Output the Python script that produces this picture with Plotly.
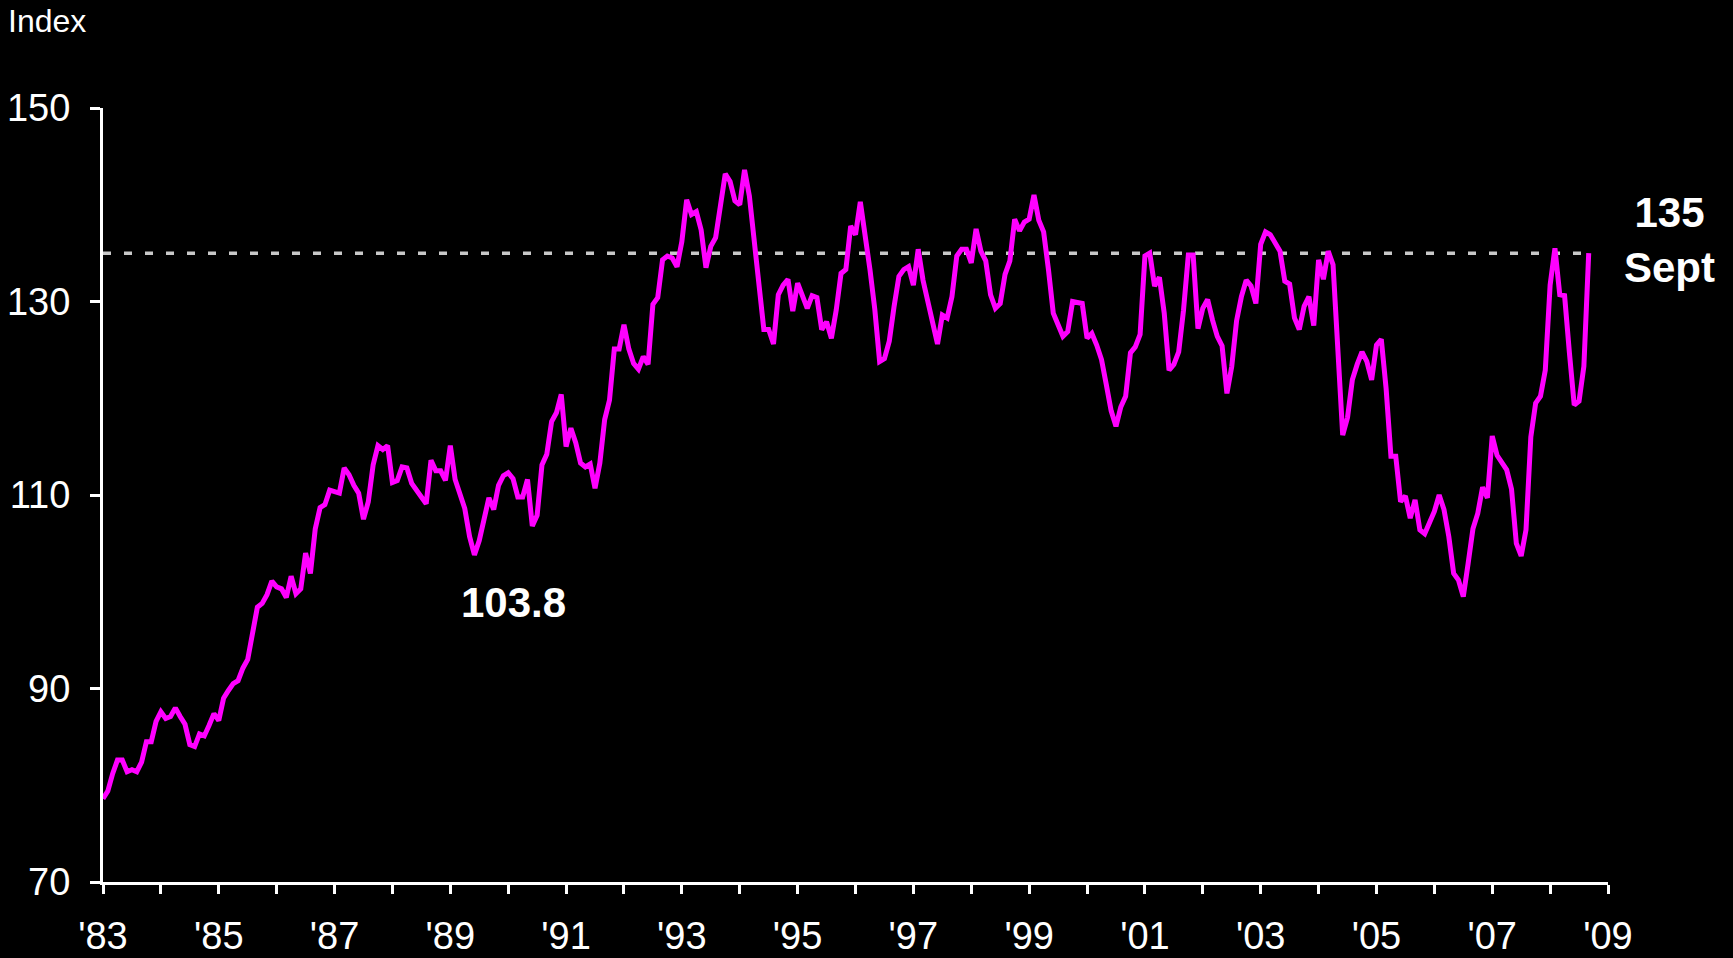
import plotly.graph_objects as go

start_year = 1983
values_1983 = [78.6, 79.4, 81.2, 82.6, 82.6, 81.4, 81.6, 81.4, 82.4, 84.5, 84.5, 86.6]
values_1984 = [87.6, 86.9, 87.1, 88.0, 87.1, 86.3, 84.2, 84.0, 85.3, 85.1, 86.2, 87.4]
values_1985 = [86.7, 89.0, 89.8, 90.5, 90.8, 92.1, 93.0, 95.4, 98.4, 98.8, 99.7, 101.1]
values_1986 = [100.5, 100.3, 99.4, 101.6, 99.8, 100.3, 104.0, 101.9, 106.5, 108.7, 109.0, 110.5]
values_1987 = [110.3, 110.2, 112.8, 112.1, 111.0, 110.2, 107.5, 109.3, 113.1, 115.1, 114.7, 115.1]
values_1988 = [111.3, 111.5, 112.9, 112.8, 111.2, 110.4, 109.8, 109.1, 113.6, 112.5, 112.5, 111.5]
values_1989 = [115.1, 111.6, 110.2, 108.6, 105.7, 103.8, 105.3, 107.6, 109.7, 108.5, 111.0, 112.0]
values_1990 = [112.3, 111.7, 109.8, 109.8, 111.6, 106.8, 107.9, 113.1, 114.2, 117.6, 118.5, 120.4]
values_1991 = [115.0, 116.9, 115.4, 113.3, 112.9, 113.2, 110.7, 113.3, 117.8, 119.8, 125.1, 125.1]
values_1992 = [127.6, 125.1, 123.6, 123.0, 124.3, 123.5, 129.7, 130.4, 134.3, 134.7, 134.5, 133.6]
values_1993 = [136.2, 140.5, 139.0, 139.3, 137.4, 133.5, 135.7, 136.6, 140.2, 143.2, 142.4, 140.4]
values_1994 = [140.0, 143.6, 140.9, 136.0, 131.0, 127.1, 127.1, 125.6, 130.7, 131.7, 132.3, 129.0]
values_1995 = [131.9, 130.7, 129.3, 130.6, 130.4, 127.1, 127.9, 126.2, 129.1, 132.9, 133.3, 137.8]
values_1996 = [136.9, 140.3, 136.9, 133.3, 129.2, 123.8, 124.1, 125.9, 129.5, 132.6, 133.3, 133.6]
values_1997 = [131.7, 135.4, 132.2, 129.8, 127.9, 125.6, 128.6, 128.3, 130.5, 134.7, 135.4, 135.4]
values_1998 = [134.0, 137.5, 135.2, 134.2, 130.7, 129.3, 129.8, 132.8, 134.2, 138.5, 137.3, 138.2]
values_1999 = [138.5, 141.0, 138.4, 137.2, 133.3, 128.8, 127.6, 126.4, 126.9, 130.0, 129.9, 129.8]
values_2000 = [126.2, 126.7, 125.5, 124.0, 121.4, 118.7, 117.1, 119.1, 120.2, 124.7, 125.3, 126.6]
values_2001 = [134.7, 135.0, 131.6, 132.5, 128.8, 122.9, 123.5, 124.8, 129.1, 134.8, 134.8, 127.2]
values_2002 = [129.3, 130.2, 128.1, 126.4, 125.4, 120.5, 123.3, 128.0, 130.5, 132.2, 131.6, 129.8]
values_2003 = [135.9, 137.2, 136.9, 136.1, 135.2, 132.1, 131.8, 128.3, 127.1, 129.5, 130.5, 127.5]
values_2004 = [134.3, 132.3, 135.2, 133.8, 125.0, 116.2, 118.0, 121.9, 123.5, 124.8, 123.8, 121.9]
values_2005 = [125.5, 126.1, 121.0, 114.0, 114.0, 109.3, 109.9, 107.6, 109.5, 106.4, 106.0, 107.2]
values_2006 = [108.3, 110.0, 108.5, 105.7, 101.9, 101.2, 99.5, 102.9, 106.5, 108.1, 110.8, 109.7]
values_2007 = [116.1, 114.1, 113.4, 112.6, 110.6, 105.0, 103.7, 106.4, 116.0, 119.5, 120.2, 122.9]
values_2008 = [131.7, 135.5, 130.7, 130.6, 124.7, 119.3, 119.7, 123.3, 135.0]

series = (values_1983 + values_1984 + values_1985 + values_1986 + values_1987 + values_1988
          + values_1989 + values_1990 + values_1991 + values_1992 + values_1993 + values_1994
          + values_1995 + values_1996 + values_1997 + values_1998 + values_1999 + values_2000
          + values_2001 + values_2002 + values_2003 + values_2004 + values_2005 + values_2006
          + values_2007 + values_2008)
x_time = [start_year + i / 12 for i in range(len(series))]

x_tick_vals = list(range(1983, 2010, 2))
x_tick_text = ["'83", "'85", "'87", "'89", "'91", "'93", "'95", "'97", "'99", "'01", "'03", "'05", "'07", "'09"]
y_tick_vals = [70, 90, 110, 130, 150]

low_label = "103.8"
low_x, low_y = 1990.1, 98.9
last_label = "135<br>Sept"
ref_value = series[-1]

FONT = "Liberation Sans, Arial, sans-serif"

fig = go.Figure()
fig.add_trace(go.Scatter(x=x_time, y=series, mode="lines",
                         line=dict(color="#ff00ff", width=5), hoverinfo="skip"))

fig.add_shape(type="line", xref="x", yref="y", x0=1983, x1=x_time[-1], y0=ref_value, y1=ref_value,
              line=dict(color="#c8c8c8", width=3.5, dash="8px,13px"), layer="below")

L, R, T, B = 103, 1608, 108, 882
W, H = R - L, B - T

def px(xp):
    return (xp - L) / W

def py(yp):
    return (B - yp) / H

fig.add_annotation(x=px(6), y=py(1), xref="paper", yref="paper", text="Index",
                   showarrow=False, xanchor="left", yanchor="top",
                   font=dict(family=FONT, size=32, color="white"))
fig.add_annotation(x=low_x, y=low_y, xref="x", yref="y", text="<b>" + low_label + "</b>",
                   showarrow=False, xanchor="center", yanchor="middle",
                   font=dict(family=FONT, size=42, color="white"))
fig.add_annotation(x=px(1669), y=py(240), xref="paper", yref="paper", text="<b>" + last_label + "</b>",
                   showarrow=False, xanchor="center", yanchor="middle",
                   font=dict(family=FONT, size=42, color="white"))

fig.update_layout(
    width=1733, height=958,
    margin=dict(l=L, r=1733 - R, t=T, b=958 - B, pad=0),
    paper_bgcolor="black", plot_bgcolor="black",
    showlegend=False,
    font=dict(family=FONT, color="white"),
    xaxis=dict(range=[1983, 2009], tickvals=x_tick_vals, ticktext=x_tick_text,
               ticks="outside", ticklen=9, tickwidth=3, tickcolor="white",
               minor=dict(dtick=1, tick0=1983, ticks="outside", ticklen=9, tickwidth=3, tickcolor="white"),
               showline=True, linewidth=3, linecolor="white", showgrid=False, zeroline=False,
               automargin=False,
               tickfont=dict(family=FONT, size=38, color="white"), ticklabelstandoff=9),
    yaxis=dict(range=[70, 150], tickvals=y_tick_vals,
               ticks="outside", ticklen=10, tickwidth=3, tickcolor="white",
               showline=True, linewidth=3, linecolor="white", showgrid=False, zeroline=False,
               automargin=False,
               tickfont=dict(family=FONT, size=38, color="white"), ticklabelstandoff=12),
)

fig.write_html("out.html", config={"displayModeBar": False},
               post_script="document.body.style.margin='0';")
